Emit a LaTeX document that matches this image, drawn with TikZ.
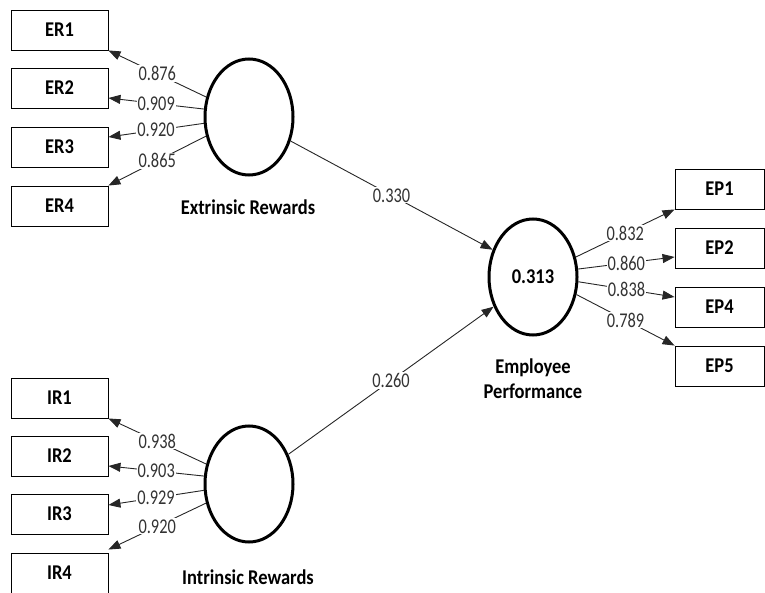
\documentclass[tikz,border=0pt]{standalone}
\usepackage{fontspec}
\setmainfont{Carlito}[FakeStretch=0.78,BoldFeatures={FakeStretch=0.88}]
\usetikzlibrary{arrows.meta,shapes.geometric}
\begin{document}
\begin{tikzpicture}[x=1pt,y=-1pt,
  font=\fontsize{21}{25}\selectfont,
  ind/.style={draw,line width=0.9pt,minimum width=97pt,minimum height=40pt,inner sep=0pt,font=\fontsize{21}{25}\selectfont\bfseries},
  lat/.style={draw,ellipse,line width=3pt,minimum width=88pt,minimum height=116pt,inner sep=0pt,font=\fontsize{21}{25}\selectfont\bfseries},
  latname/.style={font=\fontsize{21}{25}\selectfont\bfseries,align=center},
  load/.style={draw=black!85,line width=0.9pt,-{Triangle[length=12pt,width=9pt]}},
  val/.style={fill=white,text=black!80,inner sep=1pt,pos=0.5}]
\useasboundingbox (0,0) rectangle (765,593);
\node[ind] (er1) at (59.5,30) {ER1};
\node[ind] (er2) at (59.5,88) {ER2};
\node[ind] (er3) at (59.5,147) {ER3};
\node[ind] (er4) at (59.5,206) {ER4};
\node[ind] (ir1) at (59.5,398) {IR1};
\node[ind] (ir2) at (59.5,456) {IR2};
\node[ind] (ir3) at (59.5,514) {IR3};
\node[ind] (ir4) at (59.5,573) {IR4};
\node[ind,minimum width=89pt] (ep1) at (719.5,189) {EP1};
\node[ind,minimum width=89pt] (ep2) at (719.5,248) {EP2};
\node[ind,minimum width=89pt] (ep4) at (719.5,307) {EP4};
\node[ind,minimum width=89pt] (ep5) at (719.5,366) {EP5};
\node[lat] (er) at (249,117) {};
\node[lat] (ir) at (249,484) {};
\node[lat] (ep) at (533,277) {0.313};
\node[latname] (ern) at (248,207) {Extrinsic Rewards};
\node[latname] (irn) at (248,577) {Intrinsic Rewards};
\node[latname] (epn) at (533,379) {Employee\\Performance};
\draw[load] (er.155) -- node[val]{0.876} (er1.south east);
\draw[load] (er.170) -- node[val]{0.909} ([yshift=-10pt]er2.east);
\draw[load] (er.188) -- node[val]{0.920} ([yshift=10pt]er3.east);
\draw[load] (er.204) -- node[val]{0.865} (er4.north east);
\draw[load] (ir.155) -- node[val]{0.938} (ir1.south east);
\draw[load] (ir.170) -- node[val]{0.903} ([yshift=-10pt]ir2.east);
\draw[load] (ir.188) -- node[val]{0.929} ([yshift=9pt]ir3.east);
\draw[load] (ir.204) -- node[val]{0.920} ([yshift=3pt]ir4.north east);
\draw[load] (ep.25) -- node[val]{0.832} (ep1.south west);
\draw[load] (ep.10) -- node[val]{0.860} ([yshift=-9pt]ep2.west);
\draw[load] (ep.-6) -- node[val]{0.838} ([yshift=10pt]ep4.west);
\draw[load] (ep.-22) -- node[val]{0.789} (ep5.north west);
\draw[load] (er.-30) -- node[val]{0.330} (ep.146);
\draw[load] (ir.37) -- node[val]{0.260} (ep.217);
\end{tikzpicture}
\end{document}
